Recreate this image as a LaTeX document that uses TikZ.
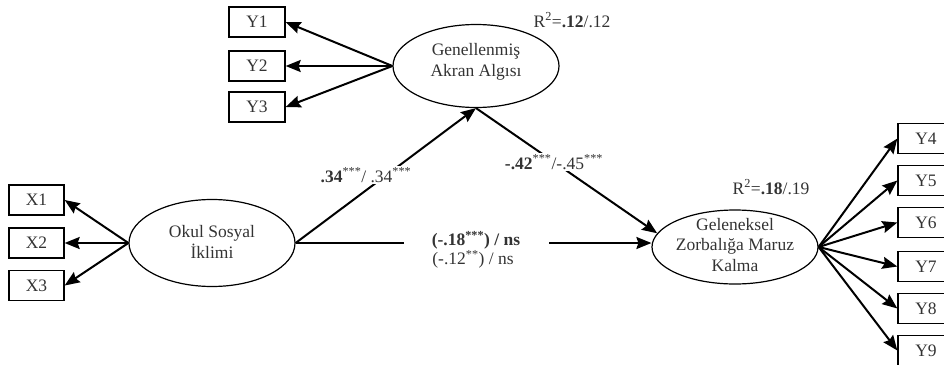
\documentclass[tikz,border=0pt]{standalone}
\usepackage{fontspec}
\setmainfont{Liberation Serif}
\usetikzlibrary{shapes.geometric,arrows.meta}
\begin{document}
\begin{tikzpicture}[x=1pt,y=-1pt,
 ell/.style={draw,ellipse,line width=1.2pt,minimum width=166pt,inner sep=0pt},
 box/.style={draw,line width=1.3pt,minimum width=56pt,minimum height=30pt,inner sep=0pt,font=\fontsize{17.5}{20}\selectfont,text=black!80},
 txt/.style={font=\fontsize{17.5}{20.5}\selectfont,text=black!80,align=center,inner sep=0pt},
 arr/.style={-{Stealth[length=15pt,width=12pt,inset=2pt]},line width=2pt},
 lbl/.style={txt,fill=white,inner sep=2pt},
]
\useasboundingbox (0,0) rectangle (944,364);
% ellipses
\node[ell,minimum height=83pt] (gen) at (476,66) {};
\node[txt] (gent) at (476,62) {Genellenmiş\\Akran Algısı};
\node[ell,minimum height=87pt] (okul) at (212,243) {};
\node[txt] (okult) at (212,242) {Okul Sosyal\\İklimi};
\node[ell,minimum height=74pt] (gel) at (735,247) {};
\node[txt] (gelt) at (735,245) {Geleneksel\\Zorbalığa Maruz\\Kalma};
% boxes
\node[box] (y1) at (257,22) {Y1};
\node[box] (y2) at (257,66) {Y2};
\node[box] (y3) at (257,107) {Y3};
\node[box,minimum width=55pt] (x1) at (36.5,200) {X1};
\node[box,minimum width=55pt] (x2) at (36.5,243) {X2};
\node[box,minimum width=55pt] (x3) at (36.5,285.5) {X3};
\node[box] (y4) at (926,138.5) {Y4};
\node[box] (y5) at (926,180.5) {Y5};
\node[box] (y6) at (926,222.5) {Y6};
\node[box] (y7) at (926,266.5) {Y7};
\node[box] (y8) at (926,308.5) {Y8};
\node[box] (y9) at (926,350.5) {Y9};
% measurement arrows
\foreach \b in {y1,y2,y3} \draw[arr] (gen.west) -- (\b.east);
\foreach \b in {x1,x2,x3} \draw[arr] (okul.west) -- (\b.east);
\foreach \b in {y4,y5,y6,y7,y8,y9} \draw[arr] (gel.east) -- (\b.west);
% structural paths
\draw[arr] (okul.east) -- (gen.south);
\draw[arr] (gen.south) -- (gel.170);
\draw[arr] (okul.east) -- (okul.east -| gel.west);
% labels
\node[lbl] (l34) at (366,175) {\textbf{.34}\textsuperscript{***}/ .34\textsuperscript{***}};
\node[lbl] (l42) at (554,162) {\textbf{-.42}\textsuperscript{***}/-.45\textsuperscript{***}};
\node[lbl,minimum width=145pt] (d1) at (476,240) {\textbf{(-.18\textsuperscript{***}) / ns}};
\node[txt] (d2) at (473,259) {(-.12\textsuperscript{**}) / ns};
\node[txt] (r1) at (572,20) {R\textsuperscript{2}=\textbf{.12}/.12};
\node[txt] (r2) at (771,187) {R\textsuperscript{2}=\textbf{.18}/.19};
\end{tikzpicture}
\end{document}
